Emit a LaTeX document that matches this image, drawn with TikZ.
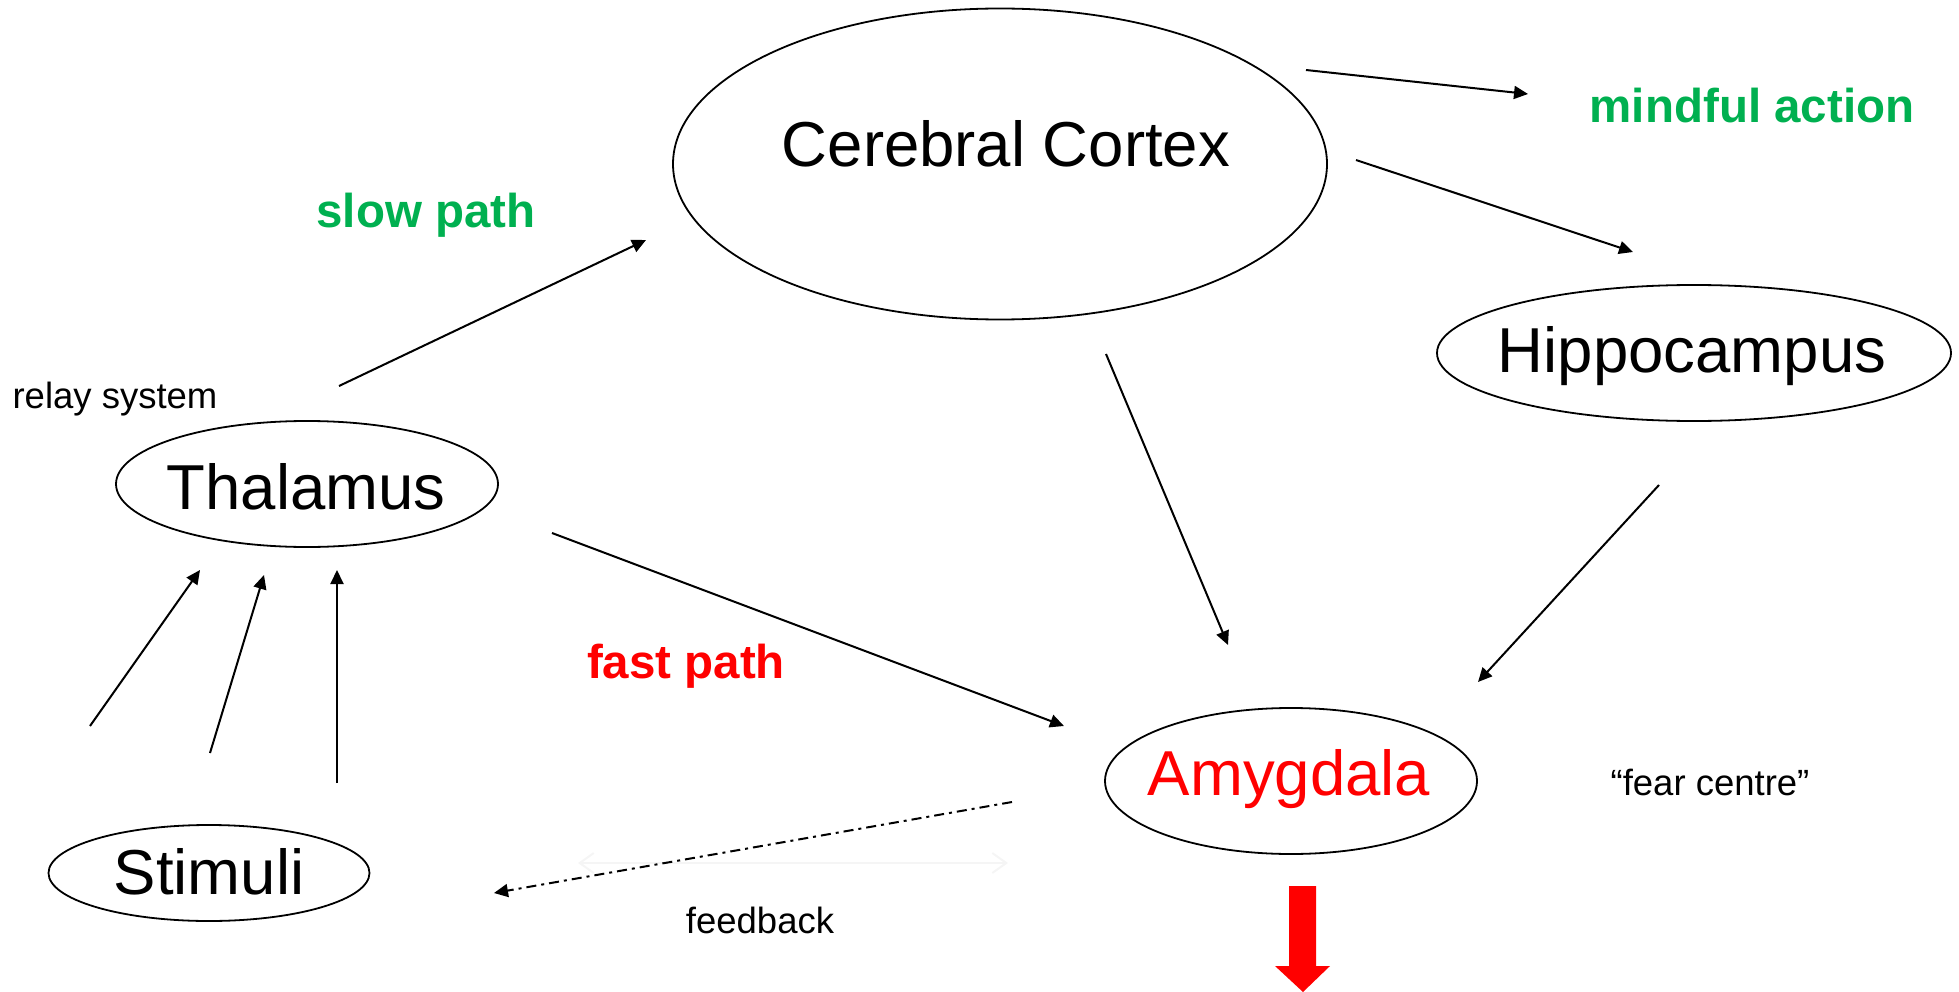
\documentclass[tikz,border=0pt]{standalone}
\usepackage{fontspec}
\setmainfont{Liberation Sans}
\usetikzlibrary{arrows.meta,shapes.geometric}
\definecolor{pgreen}{HTML}{00B050}
\definecolor{pred}{HTML}{FF0000}
\definecolor{faint}{HTML}{F5F5F5}
\begin{document}
\begin{tikzpicture}[x=1pt,y=-1pt,
  oval/.style={draw, line width=1.8pt, ellipse, inner sep=0pt},
  big/.style={font=\fontsize{63.5}{70}\selectfont, inner sep=0pt},
  small/.style={font=\fontsize{36.5}{42}\selectfont, inner sep=0pt},
  boldlbl/.style={font=\fontsize{47.5}{54}\selectfont\bfseries, inner sep=0pt},
  conn/.style={line width=2pt, -{Triangle[length=14pt,width=13pt]}},
]
\useasboundingbox (0,0) rectangle (1959,992);

% ellipses
\node[oval, minimum width=654pt, minimum height=311pt] (cortex) at (1000,164) {};
\node[oval, minimum width=514pt, minimum height=136pt] (hippo) at (1694,353) {};
\node[oval, minimum width=382pt, minimum height=126pt] (thal) at (307,484) {};
\node[oval, minimum width=372pt, minimum height=146pt] (amyg) at (1291,781) {};
\node[oval, minimum width=321pt, minimum height=96pt] (stim) at (209,873) {};

% labels
\node[big] (cortext) at (1006,144) {Cerebral Cortex};
\node[big] (hippotext) at (1692,356) {Hippocampus};
\node[big] (thaltext) at (306,487) {Thalamus};
\node[big, text=pred] (amygtext) at (1289,779) {Amygdala};
\node[big] (stimtext) at (209,872) {Stimuli};
\node[boldlbl, text=pgreen] (mindful) at (1752,106) {mindful action};
\node[boldlbl, text=pgreen] (slow) at (426,215) {slow path};
\node[boldlbl, text=pred] (fast) at (686,666) {fast path};
\node[small] (relay) at (115,399) {relay system};
\node[small] (fear) at (1710,782) {“fear centre”};
\node[small] (fb) at (760,920) {feedback};

% connector end points
\coordinate (tc1) at (339,386);  \coordinate (tc2) at (646,240);
\coordinate (cm1) at (1306,70);  \coordinate (cm2) at (1528,94);
\coordinate (ch1) at (1356,160); \coordinate (ch2) at (1633,252);
\coordinate (ca1) at (1106,354); \coordinate (ca2) at (1228,645);
\coordinate (ha1) at (1659,485); \coordinate (ha2) at (1478,682);
\coordinate (ta1) at (552,533);  \coordinate (ta2) at (1064,726);
\coordinate (s1a) at (90,726);   \coordinate (s1b) at (200,570);
\coordinate (s2a) at (210,753);  \coordinate (s2b) at (264,575);
\coordinate (s3a) at (337,783);  \coordinate (s3b) at (337,570);
\coordinate (fb1) at (1012,802); \coordinate (fb2) at (494,893);
\coordinate (fa1) at (578,863);  \coordinate (fa2) at (1008,863);

\draw[conn] (tc1) -- (tc2);
\draw[conn] (cm1) -- (cm2);
\draw[conn] (ch1) -- (ch2);
\draw[conn] (ca1) -- (ca2);
\draw[conn] (ha1) -- (ha2);
\draw[conn] (ta1) -- (ta2);
\draw[conn] (s1a) -- (s1b);
\draw[conn] (s2a) -- (s2b);
\draw[conn] (s3a) -- (s3b);

% faint double arrow
\draw[faint, line width=2pt, {Straight Barb[length=14pt,width=20pt]}-{Straight Barb[length=14pt,width=20pt]}] (fa1) -- (fa2);
% feedback dash-dot
\draw[line width=2pt, dash pattern=on 10pt off 5pt on 3pt off 5pt, -{Triangle[length=14pt,width=13pt]}] (fb1) -- (fb2);

% red block arrow
\fill[pred] (1289,886) -- (1316,886) -- (1316,966) -- (1330,966) -- (1303,992) -- (1275,966) -- (1289,966) -- cycle;
\end{tikzpicture}
\end{document}
